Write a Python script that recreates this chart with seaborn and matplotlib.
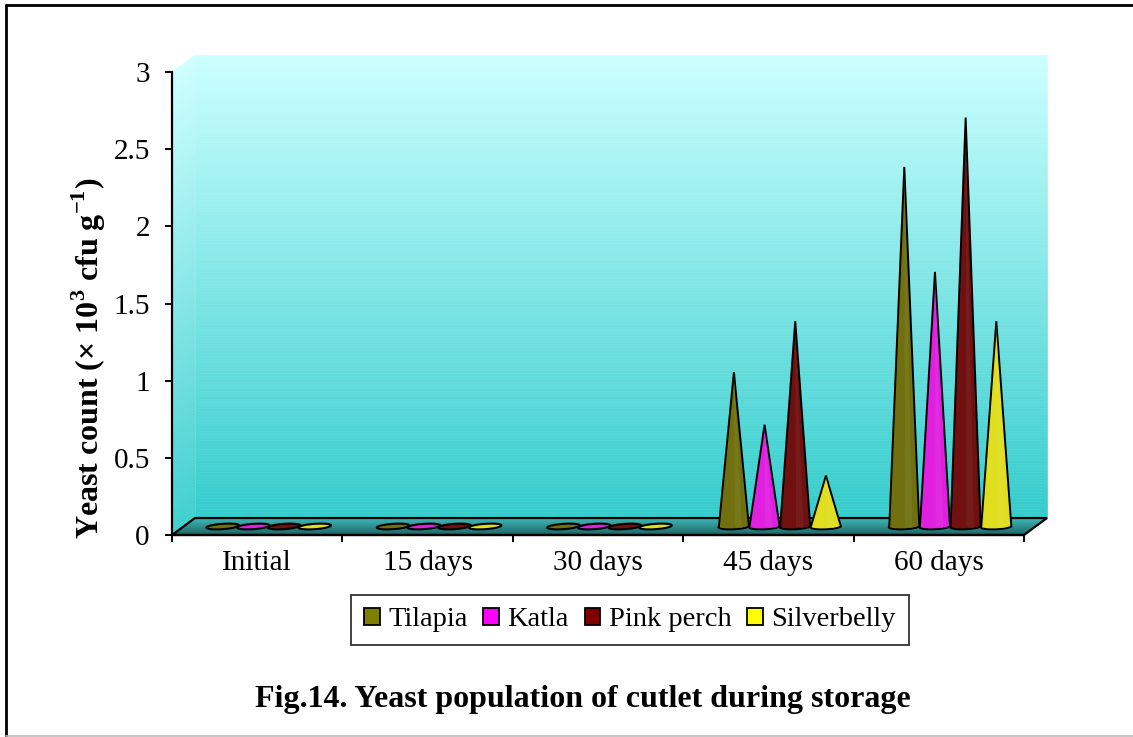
import numpy as np
import pandas as pd
import matplotlib
matplotlib.use("Agg")
import matplotlib.pyplot as plt
from matplotlib.patches import Polygon, Patch
from matplotlib.collections import PolyCollection
from matplotlib.lines import Line2D
from matplotlib.colors import to_rgb
import seaborn as sns

# ---- data -------------------------------------------------------------
storage = ["Initial", "15 days", "30 days", "45 days", "60 days"]
fish = ["Tilapia", "Katla", "Pink perch", "Silverbelly"]
tilapia = [0, 0, 0, 1.00, 2.33]
katla = [0, 0, 0, 0.66, 1.65]
pink_perch = [0, 0, 0, 1.33, 2.65]
silverbelly = [0, 0, 0, 0.33, 1.33]
yticks = [0, 0.5, 1, 1.5, 2, 2.5, 3]
ytick_labels = ["0", "0.5", "1", "1.5", "2", "2.5", "3"]
colors = ["#808000", "#FF00FF", "#800000", "#FFFF00"]

df = pd.DataFrame({
    "storage": storage * 4,
    "fish": np.repeat(fish, len(storage)),
    "count": tilapia + katla + pink_perch + silverbelly,
})

# ---- style ------------------------------------------------------------
sns.set_theme(style="white")
plt.rcParams["font.family"] = ["Liberation Serif", "DejaVu Serif"]
plt.rcParams["mathtext.fontset"] = "custom"
plt.rcParams["mathtext.rm"] = "Liberation Serif"
plt.rcParams["mathtext.bf"] = "Liberation Serif:bold"
plt.rcParams["text.color"] = "black"

W, H = 1133, 737
fig = plt.figure(figsize=(W / 100, H / 100), dpi=100)
fig.patch.set_facecolor("white")

ax = fig.add_axes([172 / W, 1 - 535 / H, 852 / W, 463 / H])
sns.barplot(data=df, x="storage", y="count", hue="fish", order=storage,
            hue_order=fish, palette=colors, width=0.72, errorbar=None,
            legend=False, ax=ax)

# bar geometry from seaborn's dodge layout, used to place the cones
bars = []
for p in ax.patches:
    bars.append((p.get_x() + p.get_width() / 2, p.get_width(),
                 p.get_height(), p.get_facecolor()))
    p.set_visible(False)

XMIN, XMAX, YMAX = -0.5, 4.5, 3.0
ax.set_xlim(XMIN, XMAX)
ax.set_ylim(0, YMAX)
ax.patch.set_visible(False)

# depth of the 3-D box in data units
DX, DY = 0.135, 0.110


def mix(c1, c2, t):
    a, b = np.array(to_rgb(c1)), np.array(to_rgb(c2))
    return tuple(a + (b - a) * t)


N = 160
# back wall and left side wall, vertical gradient
wall_polys, wall_cols, side_polys, side_cols = [], [], [], []
for k in range(N):
    y0, y1 = YMAX * k / N, YMAX * (k + 1) / N
    c = mix("#33CCCC", "#CCFFFF", (k + 0.5) / N)
    wall_polys.append([(XMIN + DX, y0 + DY), (XMAX + DX, y0 + DY),
                       (XMAX + DX, y1 + DY), (XMIN + DX, y1 + DY)])
    wall_cols.append(c)
    side_polys.append([(XMIN, y0), (XMIN + DX, y0 + DY),
                       (XMIN + DX, y1 + DY), (XMIN, y1)])
    side_cols.append(mix(c, "#FFFFFF", 0.06))
for polys, cols in ((wall_polys, wall_cols), (side_polys, side_cols)):
    pc = PolyCollection(polys, facecolors=cols, edgecolors=cols,
                        linewidths=0.4, zorder=0.5, clip_on=False)
    ax.add_collection(pc)

# floor
fl_polys, fl_cols = [], []
M = 30
for k in range(M):
    s0, s1 = k / M, (k + 1) / M
    fl_polys.append([(XMIN + s0 * DX, s0 * DY), (XMAX + s0 * DX, s0 * DY),
                     (XMAX + s1 * DX, s1 * DY), (XMIN + s1 * DX, s1 * DY)])
    fl_cols.append(mix("#1B6262", "#3DB8B8", (k + 0.5) / M))
ax.add_collection(PolyCollection(fl_polys, facecolors=fl_cols,
                                 edgecolors=fl_cols, linewidths=0.4,
                                 zorder=1, clip_on=False))
ax.add_patch(Polygon([(XMIN, 0), (XMAX, 0), (XMAX + DX, DY), (XMIN + DX, DY)],
                     closed=True, facecolor="none", edgecolor="black",
                     linewidth=1.6, zorder=1.5, clip_on=False))

# cones standing on the floor, mid-depth
b = DY / 2
t_front = np.linspace(np.pi, 2 * np.pi, 40)
t_full = np.linspace(0, 2 * np.pi, 80)
for xc0, w, h, fc in bars:
    xc = xc0 + DX / 2
    a = w * 0.49
    cs = 0.17
    if h < 1e-9:
        xs = xc + a * np.cos(t_full) + cs * DX * np.sin(t_full) * 1.6
        ys = b + cs * DY * np.sin(t_full)
        ax.add_patch(Polygon(np.column_stack([xs, ys]), closed=True,
                             facecolor=fc, edgecolor="black", linewidth=1.5,
                             zorder=3, clip_on=False))
        continue
    xs = xc + a * np.cos(t_front) + cs * DX * np.sin(t_front)
    ys = b + cs * DY * np.sin(t_front)
    pts = [(xc, b + h)] + list(zip(xs[::-1], ys[::-1]))
    ax.add_patch(Polygon(pts, closed=True, facecolor=fc, edgecolor="black",
                         linewidth=1.4, joinstyle="miter", zorder=3,
                         clip_on=False))
    # soft highlight down the lit side of the cone
    hl = [(xc, b + h), (xc + a * 0.05, b), (xc + a * 0.55, b - cs * DY * 0.6)]
    ax.add_patch(Polygon(hl, closed=True, facecolor=mix(fc, "#FFFFFF", 0.10),
                         edgecolor="none", alpha=0.5, zorder=3.1,
                         clip_on=False))

# ---- axes -------------------------------------------------------------
for side in ("top", "right"):
    ax.spines[side].set_visible(False)
for side in ("left", "bottom"):
    ax.spines[side].set_visible(True)
    ax.spines[side].set_color("black")
    ax.spines[side].set_linewidth(1.6)
    ax.spines[side].set_zorder(4)

ax.set_yticks(yticks, ytick_labels)
ax.set_xticks(np.arange(XMIN, XMAX + 0.01, 1.0), [""] * 6)
ax.set_xticks(np.arange(len(storage)), storage, minor=True)
ax.tick_params(axis="y", which="major", left=True, direction="out",
               length=5, width=1.4, color="black", labelsize=21, pad=11,
               labelcolor="black")
ax.tick_params(axis="x", which="major", bottom=True, direction="out",
               length=5, width=1.4, color="black")
ax.tick_params(axis="x", which="minor", bottom=True, length=0,
               labelsize=21, pad=11, labelcolor="black")
ax.set_xlabel("")
ax.set_ylabel("")
ax.grid(False)

fig.text(89 / W, 1 - 358 / H,
         r"Yeast count (× 10$^{\mathbf{3}}$ cfu g$^{\mathbf{-1}}$)",
         rotation=90, ha="center", va="center", fontsize=23,
         fontweight="bold", color="black")

handles = [Patch(facecolor=c, edgecolor="black", linewidth=1.3, label=f)
           for f, c in zip(fish, colors)]
leg = fig.legend(handles=handles, loc="center",
                 bbox_to_anchor=(630 / W, 1 - 620 / H), ncol=4,
                 frameon=True, fancybox=False, edgecolor="black",
                 fontsize=20.5, handlelength=0.55, handleheight=0.55,
                 handletextpad=0.3, columnspacing=0.55, borderpad=0.45,
                 labelcolor="black")
leg.get_frame().set_linewidth(1.3)

fig.text(583 / W, 1 - 700 / H,
         "Fig.14. Yeast population of cutlet during storage",
         ha="center", va="center", fontsize=23, fontweight="bold",
         color="black")

# page frame
fig.add_artist(Line2D([6 / W, 6 / W], [0, 1 - 5 / H], color="black",
                      linewidth=2.0, transform=fig.transFigure))
fig.add_artist(Line2D([6 / W, 1], [1 - 5 / H, 1 - 5 / H], color="black",
                      linewidth=2.0, transform=fig.transFigure))
fig.add_artist(Line2D([6 / W, 1], [0.7 / H, 0.7 / H], color="#BBBBBB",
                      linewidth=1.2, transform=fig.transFigure))

fig.savefig("out.png", dpi=100)
